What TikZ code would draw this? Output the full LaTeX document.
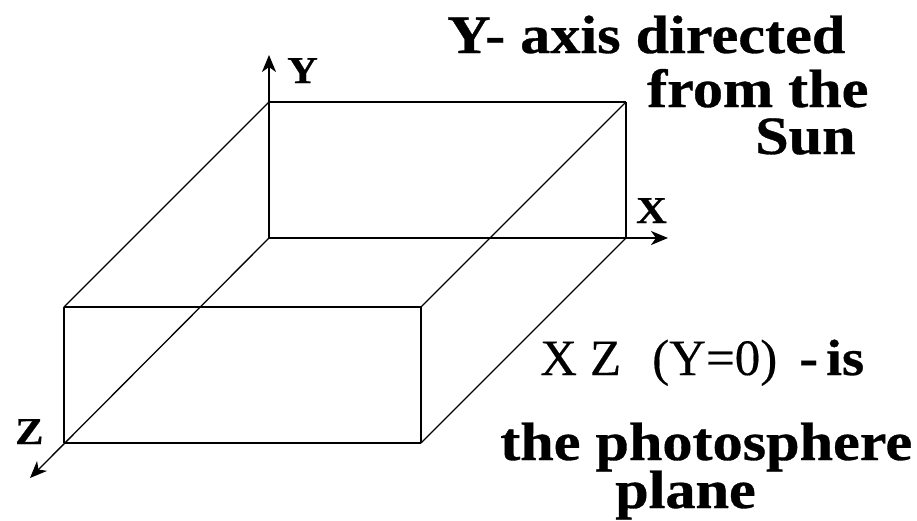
\documentclass[tikz,border=0pt]{standalone}
\usepackage{fontspec}
\setmainfont{Liberation Serif}[FakeBold=0.25,BoldFeatures={FakeStretch=1.115,FakeBold=0.6}]
\usepackage{xcolor}
\usetikzlibrary{arrows.meta}
\tikzset{
  boxline/.style={line width=2pt,black},
  slantline/.style={line width=1.3pt,black},
  axisline/.style={-{Stealth[length=17pt,width=14pt,inset=5pt]}},
  bigtext/.style={anchor=base west,inner sep=0pt,font=\fontsize{54}{54}\selectfont\bfseries},
  midtext/.style={anchor=base west,inner sep=0pt,font=\fontsize{51}{51}\selectfont},
  axislabel/.style={anchor=base west,inner sep=0pt,font=\fontsize{38}{38}\selectfont\bfseries},
}

\begin{document}
\begin{tikzpicture}[x=1pt,y=-1pt]
  \useasboundingbox (0,0) rectangle (917,520);
  % box corners
  \coordinate (O) at (269,238);
  \coordinate (YT) at (269,102);
  \coordinate (XT) at (626,102);
  \coordinate (XR) at (626,238);
  \coordinate (FTL) at (64,307);
  \coordinate (FBL) at (64,443);
  \coordinate (FTR) at (421,307);
  \coordinate (FBR) at (421,443);
  % axis ends
  \coordinate (Yend) at (269,55);
  \coordinate (Xend) at (668,238);
  \coordinate (Zend) at (30,478);
  \draw[boxline] (YT) -- (XT); %top back
  \draw[boxline] (XT) -- (XR); %right back
  \draw[boxline] (FTL) -- (FTR); %top front
  \draw[boxline] (FTL) -- (FBL); %left front
  \draw[boxline] (FBL) -- (FBR); %bottom front
  \draw[boxline] (FTR) -- (FBR); %right front
  \draw[slantline] (YT) -- (FTL);
  \draw[slantline] (XT) -- (FTR);
  \draw[slantline] (XR) -- (FBR);
  \draw[boxline,axisline] (O) -- (Yend); %Y
  \draw[boxline,axisline] (O) -- (Xend); %X
  \draw[slantline,axisline] (O) -- (Zend); %Z
  % axis names
  \node[axislabel] (Ylabel) at (287,83) {Y};
  \node[axislabel] (Xlabel) at (636,223) {X};
  \node[axislabel] (Zlabel) at (15,444) {Z};
  % captions
  \node[bigtext] (line1) at (447,53) {Y- axis directed};
  \node[bigtext] (line2) at (647,107) {from the};
  \node[bigtext] (line3) at (755,154) {Sun};
  \node[midtext] (xz) at (540,375) {X\hspace{13pt}Z};
  \node[midtext] (yzero) at (652,375) {(Y=0)};
  \node[midtext,font=\fontsize{51}{51}\selectfont\bfseries] (dash) at (799,375) {-};
  \node[midtext,font=\fontsize{51}{51}\selectfont\bfseries] (is) at (826,375) {is};
  \node[bigtext] (line5) at (500,460) {the photosphere};
  \node[bigtext] (line6) at (615,508) {plane};
\end{tikzpicture}
\end{document}
